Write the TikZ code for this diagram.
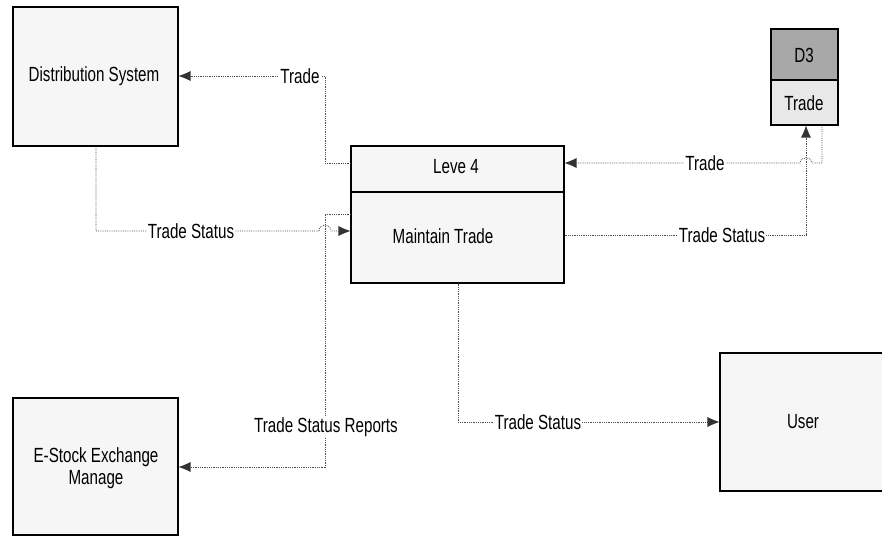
\documentclass[tikz,border=0pt]{standalone}
\usepackage{fontspec}
\setmainfont[FakeStretch=0.74]{Liberation Sans}
\usetikzlibrary{arrows.meta}
\definecolor{boxfill}{gray}{0.965}
\definecolor{darkfill}{gray}{0.66}
\definecolor{lightfill}{gray}{0.91}
\definecolor{flowc}{gray}{0.3}
\definecolor{tipc}{gray}{0.2}
\tikzset{
  entity/.style={draw=black, line width=1.1pt, fill=boxfill, rectangle, inner sep=0pt},
  flow/.style={draw=flowc, densely dotted, line width=0.8pt},
  tip/.style={-{Latex[length=12pt,width=10pt,fill=tipc,color=tipc,line width=0pt]}},
  lbl/.style={fill=white, inner sep=1pt, font=\fontsize{20.5}{22}\selectfont},
  txt/.style={inner sep=0pt, font=\fontsize{20.5}{22}\selectfont, align=center}
}
\begin{document}
\begin{tikzpicture}[x=1pt,y=-1pt]
\useasboundingbox (0,0) rectangle (882,536);
% boxes
\node[entity, minimum width=165pt, minimum height=139pt] (ds) at (95.5,76.5) {};
\node[txt] (dst) at (94,76) {Distribution System};
\node[entity, minimum width=165pt, minimum height=137pt] (es) at (95.5,466.5) {};
\node[txt] (est) at (96,468) {E-Stock Exchange\\Manage};
\node[entity, minimum width=213pt, minimum height=137pt] (lv) at (457.5,214.5) {};
\draw[line width=1.1pt] (351,192) -- (564,192);
\node[txt] (lvt) at (456,167) {Leve 4};
\node[txt] (mt) at (443,236) {Maintain Trade};
\node[entity, minimum width=166pt, minimum height=138pt] (us) at (803,422) {};
\node[txt] (ust) at (803,422) {User};
\node[entity, fill=lightfill, minimum width=67pt, minimum height=96pt] (d3) at (804.5,77) {};
\fill[darkfill] (771.5,29.5) rectangle (837.5,80);
\draw[line width=1.1pt] (771,29) rectangle (838,125);
\draw[line width=1.1pt] (771,80) -- (838,80);
\node[txt] (d3t) at (804,55) {D3};
\node[txt] (d3s) at (804,103) {Trade};
% flows
\coordinate (a1) at (351,163);
\draw[flow, tip] (a1) -- (325,163) -- (325,76) -- (ds.east |- 0,76);
\node[lbl] at (300,76) {Trade};

\draw[flow, tip] (ds.south -| 96,0) -- (96,231) -- (319,231) .. controls (319,223) and (331,223) .. (331,231) -- (lv.west |- 0,231);
\node[lbl] at (191,231) {Trade Status};

\coordinate (a3) at (351,214);
\draw[flow, tip] (a3) -- (325,214) -- (325,467) -- (es.east |- 0,467);
\node[lbl] at (326,427) {Trade Status Reports};

\draw[flow, tip] (d3.south -| 822,0) -- (822,163) -- (812,163) .. controls (812,156) and (800,156) .. (800,163) -- (lv.east |- 0,163);
\node[lbl] at (705,163) {Trade};

\draw[flow, tip] (lv.east |- 0,235) -- (806,235) -- (d3.south -| 806,0);
\node[lbl] at (722,235) {Trade Status};

\draw[flow, tip] (lv.south -| 458,0) -- (458,422) -- (us.west |- 0,422);
\node[lbl] at (538,422) {Trade Status};
\end{tikzpicture}
\end{document}
